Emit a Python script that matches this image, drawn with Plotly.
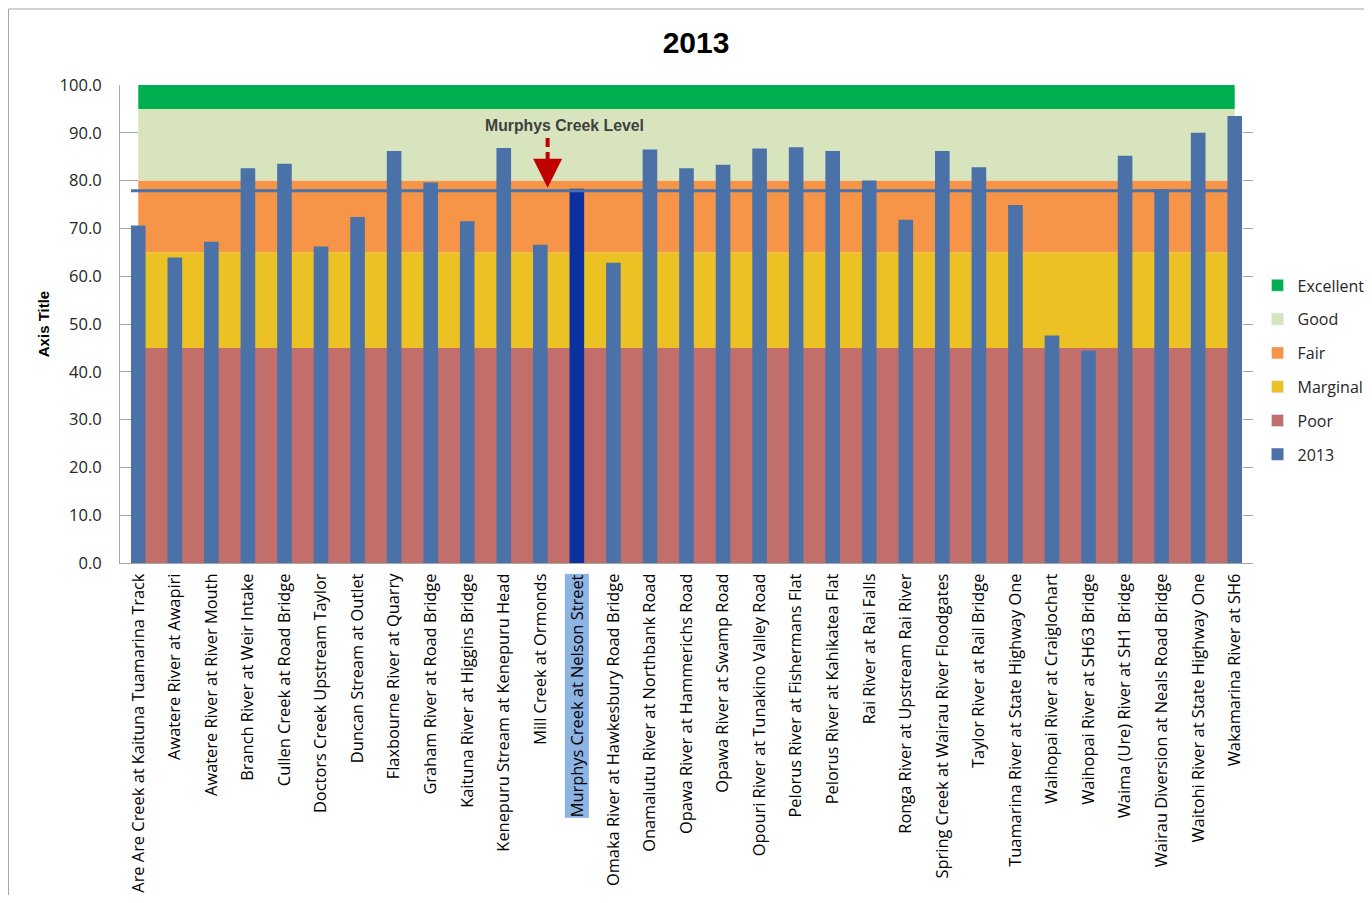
import numpy as np
import plotly.graph_objects as go

categories = [
    "Are Are Creek at Kaituna Tuamarina Track",
    "Awatere River at Awapiri",
    "Awatere River at River Mouth",
    "Branch River at Weir Intake",
    "Cullen Creek at Road Bridge",
    "Doctors Creek Upstream Taylor",
    "Duncan Stream at Outlet",
    "Flaxbourne River at Quarry",
    "Graham River at Road Bridge",
    "Kaituna River at Higgins Bridge",
    "Kenepuru Stream at Kenepuru Head",
    "Mill Creek at Ormonds",
    "Murphys Creek at Nelson Street",
    "Omaka River at Hawkesbury Road Bridge",
    "Onamalutu River at Northbank Road",
    "Opawa River at Hammerichs Road",
    "Opawa River at Swamp Road",
    "Opouri River at Tunakino Valley Road",
    "Pelorus River at Fishermans Flat",
    "Pelorus River at Kahikatea Flat",
    "Rai River at Rai Falls",
    "Ronga River at Upstream Rai River",
    "Spring Creek at Wairau River Floodgates",
    "Taylor River at Rail Bridge",
    "Tuamarina River at State Highway One",
    "Waihopai River at Craiglochart",
    "Waihopai River at SH63 Bridge",
    "Waima (Ure) River at SH1 Bridge",
    "Wairau Diversion at Neals Road Bridge",
    "Waitohi River at State Highway One",
    "Wakamarina River at SH6",
]

values_2013 = [
    70.6, 63.9, 67.2, 82.6, 83.5, 66.2, 72.4, 86.2, 79.6, 71.5, 86.8,
    66.6, 78.3, 62.8, 86.5, 82.6, 83.3, 86.7, 87.0, 86.2, 80.0, 71.8,
    86.2, 82.8, 74.9, 47.6, 44.4, 85.2, 78.2, 90.0, 93.5,
]

highlight_site = "Murphys Creek at Nelson Street"
murphys_level = 77.9

band_names = ["Poor", "Marginal", "Fair", "Good", "Excellent"]
band_tops = [45, 65, 80, 95, 100]
band_colors = ["#C26F6B", "#EBC123", "#F69548", "#D8E4BD", "#00B050"]

y_ticks = [0, 10, 20, 30, 40, 50, 60, 70, 80, 90, 100]

BAR_BLUE = "#4A72A8"
HIGHLIGHT_BLUE = "#0B31A0"
TEXT_FONT = "Open Sans"

band_heights = np.diff([0] + band_tops)
bar_colors = [HIGHLIGHT_BLUE if c == highlight_site else BAR_BLUE for c in categories]
tick_text = ["" if c == highlight_site else c for c in categories]
n = len(categories)

fig = go.Figure()

# background bands (stacked areas from first to last site)
for name, h, col in zip(band_names, band_heights, band_colors):
    fig.add_trace(go.Scatter(
        x=categories,
        y=[h] * n,
        name=name,
        mode="none",
        stackgroup="bands",
        fillcolor=col,
        showlegend=False,
        hoverinfo="skip",
    ))

# bars on an overlaying axis pair so they are drawn above the bands
fig.add_trace(go.Bar(
    x=categories,
    y=values_2013,
    name="2013",
    marker=dict(color=bar_colors, line=dict(width=0)),
    width=0.4,
    xaxis="x2",
    yaxis="y2",
    legendgroup="2013",
    legendrank=6,
))

# legend entries with square swatches for the bands
for rank, (name, col) in enumerate(zip(band_names, band_colors)):
    fig.add_trace(go.Bar(
        x=[None], y=[None], name=name,
        marker=dict(color=col),
        legendgroup=name,
        legendrank=5 - rank,
    ))

fig.add_shape(
    type="line", xref="x", yref="y",
    x0=-0.2, x1=n - 1 + 0.2,
    y0=murphys_level, y1=murphys_level,
    line=dict(color=BAR_BLUE, width=3),
    layer="above",
)

# dashed shaft of the red arrow (drawn from the top so dashes start there)
fig.add_shape(
    type="line", xref="x", yref="y",
    x0=11.2, x1=11.2, y0=murphys_level + 11.0, y1=murphys_level + 5.0,
    line=dict(color="#C00000", width=4, dash="9px,5px"),
    layer="above",
)

fig.add_annotation(
    x=11.2, y=murphys_level, xref="x", yref="y",
    ax=0, ay=-27, text="", showarrow=True,
    arrowhead=2, arrowsize=1.45, arrowwidth=4, arrowcolor="#C00000",
    standoff=3,
)

fig.add_annotation(
    x=11.65, y=91.6, xref="x", yref="y",
    text="<b>Murphys Creek Level</b>", showarrow=False,
    font=dict(family="Liberation Sans", size=15.8, color="#404040"),
)

fig.add_annotation(
    x=highlight_site, y=0, xref="x", yref="y",
    text=highlight_site, showarrow=False, textangle=-90,
    yanchor="top", yshift=-10, bgcolor="#8DB4E2", borderpad=0,
    font=dict(family=TEXT_FONT, size=16.4, color="#000000"),
)

# chart frame (left and top edges visible in the reference)
fig.add_shape(
    type="path", xref="paper", yref="paper",
    path="M -0.0984,-0.70 L -0.0984,1.159 L 1.098,1.159",
    line=dict(color="#A6A6A6", width=1),
)

fig.update_layout(
    width=1356,
    height=887,
    paper_bgcolor="white",
    plot_bgcolor="white",
    margin=dict(l=112, r=111, t=77, b=332, autoexpand=False),
    title=dict(
        text="<b>2013</b>", x=688 / 1356, xref="container", xanchor="center",
        y=1 - 34 / 887, yref="container", yanchor="middle",
        font=dict(family="Liberation Sans", size=30, color="#000000"),
    ),
    showlegend=True,
    barmode="overlay",
    legend=dict(
        x=1.004, y=0.404, xanchor="left", yanchor="middle",
        traceorder="grouped", tracegroupgap=10,
        font=dict(family=TEXT_FONT, size=16, color="#262626"),
        bgcolor="rgba(0,0,0,0)",
    ),
    xaxis=dict(
        type="category",
        categoryorder="array",
        categoryarray=categories,
        range=[-0.5, n - 0.5],
        tickmode="array",
        tickvals=categories,
        ticktext=tick_text,
        tickangle=-90,
        ticklabelstandoff=3,
        tickfont=dict(family=TEXT_FONT, size=16.4, color="#000000"),
        showline=True,
        linecolor="#A6A6A6",
        linewidth=1,
        ticks="",
        showgrid=False,
        zeroline=False,
        automargin=False,
        fixedrange=True,
    ),
    xaxis2=dict(
        overlaying="x",
        matches="x",
        type="category",
        visible=False,
    ),
    yaxis=dict(
        range=[0, 100],
        tickmode="array",
        tickvals=y_ticks,
        tickformat=".1f",
        ticklabelstandoff=14,
        tickfont=dict(family=TEXT_FONT, size=16.5, color="#262626"),
        title=dict(
            text="<b>Axis Title</b>", standoff=6,
            font=dict(family="Liberation Sans", size=15, color="#000000"),
        ),
        showline=True,
        linecolor="#A6A6A6",
        ticks="inside",
        ticklen=18,
        tickcolor="#A6A6A6",
        showgrid=False,
        zeroline=False,
        layer="below traces",
        automargin=False,
        fixedrange=True,
    ),
    yaxis2=dict(
        overlaying="y",
        matches="y",
        side="right",
        tickmode="array",
        tickvals=y_ticks,
        showticklabels=False,
        ticks="inside",
        ticklen=10,
        tickcolor="#A6A6A6",
        showline=False,
        showgrid=False,
        zeroline=False,
        automargin=False,
    ),
)

fig.write_html("out.html")
